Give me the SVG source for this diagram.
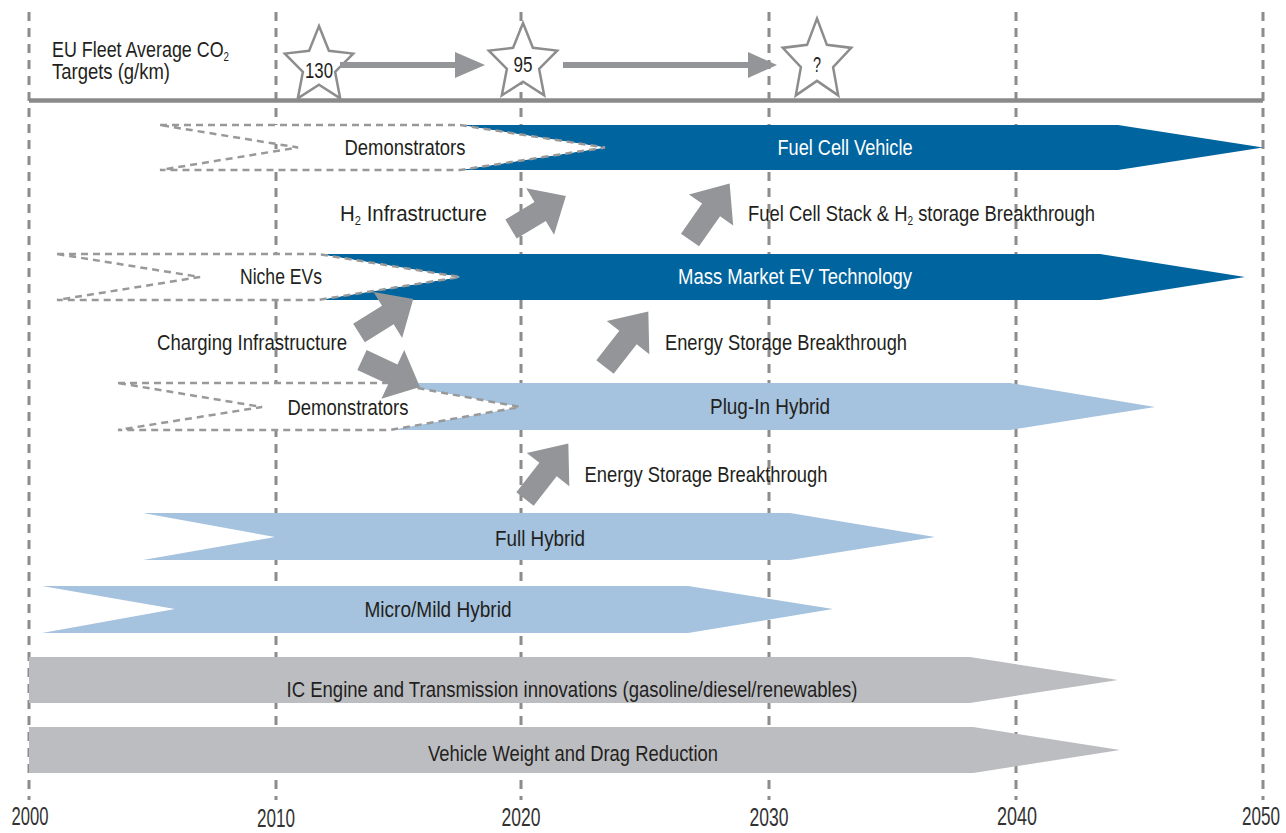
<svg xmlns="http://www.w3.org/2000/svg" xmlns:xlink="http://www.w3.org/1999/xlink" width="1286" height="833" viewBox="0 0 1286 833">
<style>
  .grid{stroke:#8c8c8c;stroke-width:3;stroke-dasharray:9 7;fill:none}
  .axis{stroke:#8a8a8a;stroke-width:4.5;fill:none}
  .dark{fill:#00649f}
  .light{fill:#a5c2de}
  .grey{fill:#bcbdc0}
  .demo{fill:#fff;stroke:#999;stroke-width:2.5;stroke-dasharray:7 5}
  .blk{fill:#939598}
  .star{fill:#fff;stroke:#8d8d8d;stroke-width:2.5}
  text{font-family:"Liberation Sans Narrow","Liberation Sans",Arial,sans-serif;font-size:22px;fill:#231f20}
  .w{fill:#fff}
  .c{text-anchor:middle}
  .yr{font-size:25px;fill:#333;text-anchor:middle}
  .sub{font-size:12px}
</style>
<defs>
  <path id="starShape" d="M0,-40 L9.9,-15.2 L34.2,-12.4 L16.1,5.8 L21.2,32.4 L0,18.8 L-21.2,32.4 L-16.1,5.8 L-34.2,-12.4 L-9.9,-15.2 Z"/>
  <path id="blockArrow" d="M0,-11 H34 V-27 L64,0 L34,27 V11 H0 Z"/>
</defs>
<rect width="1286" height="833" fill="#fff"/>

<g id="grid">
  <line class="grid" x1="29" y1="12" x2="29" y2="800"/>
  <line class="grid" x1="276" y1="12" x2="276" y2="800"/>
  <line class="grid" x1="521" y1="12" x2="521" y2="800"/>
  <line class="grid" x1="769" y1="12" x2="769" y2="800"/>
  <line class="grid" x1="1016" y1="12" x2="1016" y2="800"/>
  <line class="grid" x1="1263" y1="12" x2="1263" y2="800"/>
  <line class="axis" x1="29" y1="100.5" x2="1263" y2="100.5"/>
</g>

<g id="header">
  <text x="52" y="57" font-size="21" textLength="177" lengthAdjust="spacingAndGlyphs">EU Fleet Average CO<tspan class="sub" dy="4">2</tspan></text>
  <text x="52" y="79" font-size="21" textLength="118" lengthAdjust="spacingAndGlyphs">Targets (g/km)</text>
</g>

<g id="targets">
  <g id="star130"><use href="#starShape" class="star" transform="translate(319,66)"/><text class="c" x="319" y="78" font-size="21" textLength="28" lengthAdjust="spacingAndGlyphs">130</text></g>
  <g id="star95"><use href="#starShape" class="star" transform="translate(523,63)"/><text class="c" x="523" y="72" font-size="21" textLength="19" lengthAdjust="spacingAndGlyphs">95</text></g>
  <g id="starQ"><use href="#starShape" class="star" transform="translate(817,61) scale(1,1.06)"/><text class="c" x="817" y="72" font-size="17" textLength="8" lengthAdjust="spacingAndGlyphs">?</text></g>
</g>

<g id="fuelcell">
  <polygon class="dark" points="460,125 1118,125 1263,147.5 1118,170 460,170 605,147.5"/>
  <polygon class="demo" points="160,125 460,125 605,147.5 460,170 160,170 298,147.5"/>
  <text class="c" x="405" y="155" textLength="121" lengthAdjust="spacingAndGlyphs">Demonstrators</text>
  <text class="c w" x="845" y="155" textLength="135" lengthAdjust="spacingAndGlyphs">Fuel Cell Vehicle</text>
</g>

<g id="massmarket">
  <polygon class="dark" points="318,254 1100,254 1245,277 1100,300 318,300 460,277"/>
  <polygon class="demo" points="57,254 318,254 460,277 318,300 57,300 200,277"/>
  <text class="c" x="281" y="284" textLength="82" lengthAdjust="spacingAndGlyphs">Niche EVs</text>
  <text class="c w" x="795" y="284" textLength="234" lengthAdjust="spacingAndGlyphs">Mass Market EV Technology</text>
</g>

<g id="pluginhybrid">
  <polygon class="light" points="390,383 1010,383 1155,407 1010,430 390,430 520,407"/>
  <polygon class="demo" points="118,383 390,383 520,407 390,430 118,430 262,407"/>
  <text class="c" x="348" y="415" textLength="121" lengthAdjust="spacingAndGlyphs">Demonstrators</text>
  <text class="c" x="770" y="414" textLength="120" lengthAdjust="spacingAndGlyphs">Plug-In Hybrid</text>
</g>

<g id="fullhybrid">
  <polygon class="light" points="143,513 790,513 935,537 790,560 143,560 275,537"/>
  <text class="c" x="540" y="546" textLength="90" lengthAdjust="spacingAndGlyphs">Full Hybrid</text>
</g>

<g id="microhybrid">
  <polygon class="light" points="42,586 688,586 833,609 688,633 42,633 175,609"/>
  <text class="c" x="438" y="617" textLength="147" lengthAdjust="spacingAndGlyphs">Micro/Mild Hybrid</text>
</g>

<g id="icengine">
  <polygon class="grey" points="29,657 970,657 1118,680 970,703 29,703"/>
  <text class="c" x="572" y="697" textLength="571" lengthAdjust="spacingAndGlyphs">IC Engine and Transmission innovations (gasoline/diesel/renewables)</text>
</g>

<g id="weight">
  <polygon class="grey" points="29,727 973,727 1120,750 973,773 29,773"/>
  <text class="c" x="573" y="761" textLength="290" lengthAdjust="spacingAndGlyphs">Vehicle Weight and Drag Reduction</text>
</g>

<g id="labels">
  <text x="340" y="221" textLength="147" lengthAdjust="spacingAndGlyphs">H<tspan class="sub" dy="4">2</tspan><tspan dy="-4"> Infrastructure</tspan></text>
  <text x="748" y="221" textLength="347" lengthAdjust="spacingAndGlyphs">Fuel Cell Stack &amp; H<tspan class="sub" dy="4">2</tspan><tspan dy="-4"> storage Breakthrough</tspan></text>
  <text class="c" x="252" y="350" textLength="190" lengthAdjust="spacingAndGlyphs">Charging Infrastructure</text>
  <text class="c" x="786" y="350" textLength="242" lengthAdjust="spacingAndGlyphs">Energy Storage Breakthrough</text>
  <text class="c" x="706" y="482" textLength="243" lengthAdjust="spacingAndGlyphs">Energy Storage Breakthrough</text>
</g>

<g id="connectors">
  <polygon class="blk" points="340,62 455,62 455,52 485,65 455,78 455,68 340,68"/>
  <polygon class="blk" points="563,62 748,62 748,52 777,65 748,78 748,68 563,68"/>
  <use href="#blockArrow" class="blk" transform="translate(511,229) rotate(-31)"/>
  <use href="#blockArrow" class="blk" transform="translate(690,240) rotate(-55) scale(1.08,1)"/>
  <use href="#blockArrow" class="blk" transform="translate(359,333) rotate(-32)"/>
  <use href="#blockArrow" class="blk" transform="translate(362,360) rotate(25)"/>
  <use href="#blockArrow" class="blk" transform="translate(605,367) rotate(-52) scale(1.1,1)"/>
  <use href="#blockArrow" class="blk" transform="translate(525,499) rotate(-52) scale(1.1,1)"/>
</g>

<g id="years">
  <text class="yr" x="30" y="825" textLength="37" lengthAdjust="spacingAndGlyphs">2000</text>
  <text class="yr" x="276" y="827" textLength="38" lengthAdjust="spacingAndGlyphs">2010</text>
  <text class="yr" x="521" y="826" textLength="39" lengthAdjust="spacingAndGlyphs">2020</text>
  <text class="yr" x="769" y="826" textLength="39" lengthAdjust="spacingAndGlyphs">2030</text>
  <text class="yr" x="1017" y="825" textLength="40" lengthAdjust="spacingAndGlyphs">2040</text>
  <text class="yr" x="1261" y="825" textLength="38" lengthAdjust="spacingAndGlyphs">2050</text>
</g>
</svg>
